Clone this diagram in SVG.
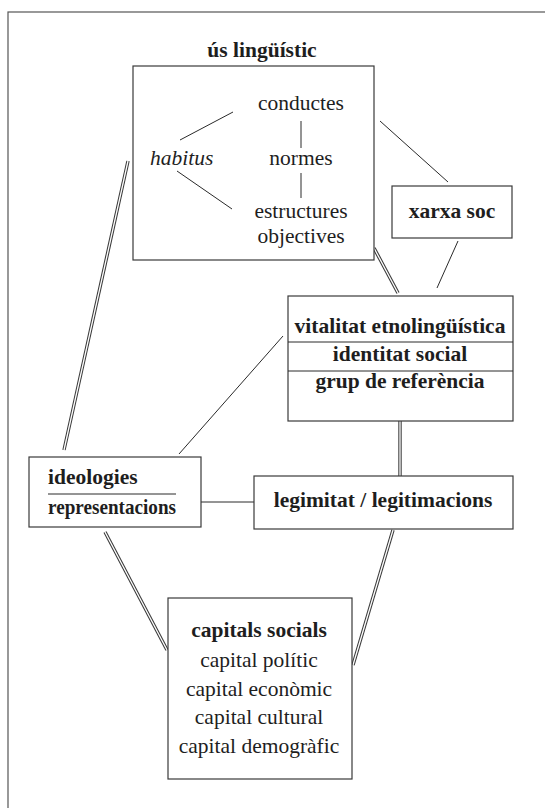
<svg xmlns="http://www.w3.org/2000/svg" width="545" height="808" viewBox="0 0 545 808">
<style>
.box{fill:#fff;stroke:#3a3a3a;stroke-width:1.2}
.ln{stroke:#2a2a2a;stroke-width:1;fill:none}
.dbl1{stroke:#3a3a3a;stroke-width:3.4;fill:none}
.dbl2{stroke:#fff;stroke-width:1.3;fill:none}
text{font-family:"Liberation Serif","DejaVu Serif",serif;font-size:21.5px;fill:#1e1e1e}
.b{font-weight:bold}
.c{text-anchor:middle}
.i{font-style:italic}
</style>
<rect x="8" y="12" width="600" height="900" fill="none" stroke="#555" stroke-width="1.2"/>
<g id="connectors">
  <line class="ln" x1="380" y1="121" x2="448" y2="182"/>
  <line class="ln" x1="458" y1="241" x2="437" y2="288"/>
  <line class="ln" x1="283" y1="336" x2="179" y2="454"/>
  <line class="ln" x1="201" y1="502" x2="254" y2="502"/>
  <g class="dbl1">
    <line x1="374" y1="248" x2="398" y2="293"/>
    <line x1="128" y1="161" x2="64" y2="450"/>
    <line x1="400" y1="421" x2="400" y2="476"/>
    <line x1="105" y1="532" x2="167" y2="650"/>
    <line x1="393" y1="530" x2="353" y2="665"/>
  </g>
  <g class="dbl2">
    <line x1="374" y1="248" x2="398" y2="293"/>
    <line x1="128" y1="161" x2="64" y2="450"/>
    <line x1="400" y1="421" x2="400" y2="476"/>
    <line x1="105" y1="532" x2="167" y2="650"/>
    <line x1="393" y1="530" x2="353" y2="665"/>
  </g>
</g>
<g id="us-linguistic">
  <text class="b c" x="262" y="57">ús lingüístic</text>
  <rect class="box" x="133" y="66" width="241" height="194"/>
  <text class="c" x="301" y="110">conductes</text>
  <text class="i" x="150" y="165">habitus</text>
  <text class="c" x="301" y="165">normes</text>
  <text class="c" x="301" y="218">estructures</text>
  <text class="c" x="301" y="243">objectives</text>
  <line class="ln" x1="180" y1="140" x2="233" y2="112"/>
  <line class="ln" x1="177" y1="171" x2="232" y2="209"/>
  <line class="ln" x1="301" y1="121" x2="301" y2="148"/>
  <line class="ln" x1="301" y1="173" x2="301" y2="198"/>
</g>
<g id="xarxa-soc">
  <rect class="box" x="392" y="186" width="120" height="52"/>
  <text class="b c" x="452" y="218">xarxa soc</text>
</g>
<g id="vitalitat">
  <rect class="box" x="288" y="296" width="225" height="125"/>
  <line class="ln" x1="288" y1="342" x2="513" y2="342"/>
  <line class="ln" x1="288" y1="371" x2="513" y2="371"/>
  <text class="b c" x="400" y="333">vitalitat etnolingüística</text>
  <text class="b c" x="400" y="361">identitat social</text>
  <text class="b c" x="400" y="388">grup de referència</text>
</g>
<g id="ideologies">
  <rect class="box" x="29" y="457" width="172" height="70"/>
  <text class="b" x="48" y="484">ideologies</text>
  <line class="ln" x1="48" y1="494" x2="176" y2="494"/>
  <text class="b" x="48" y="514" textLength="128" lengthAdjust="spacingAndGlyphs">representacions</text>
</g>
<g id="legitimitat">
  <rect class="box" x="254" y="476" width="259" height="53"/>
  <text class="b c" x="383" y="507">legimitat / legitimacions</text>
</g>
<g id="capitals">
  <rect class="box" x="168" y="598" width="184" height="181"/>
  <text class="b c" x="259" y="637">capitals socials</text>
  <text class="c" x="259" y="667">capital polític</text>
  <text class="c" x="259" y="696">capital econòmic</text>
  <text class="c" x="259" y="724">capital cultural</text>
  <text class="c" x="259" y="753">capital demogràfic</text>
</g>
</svg>
